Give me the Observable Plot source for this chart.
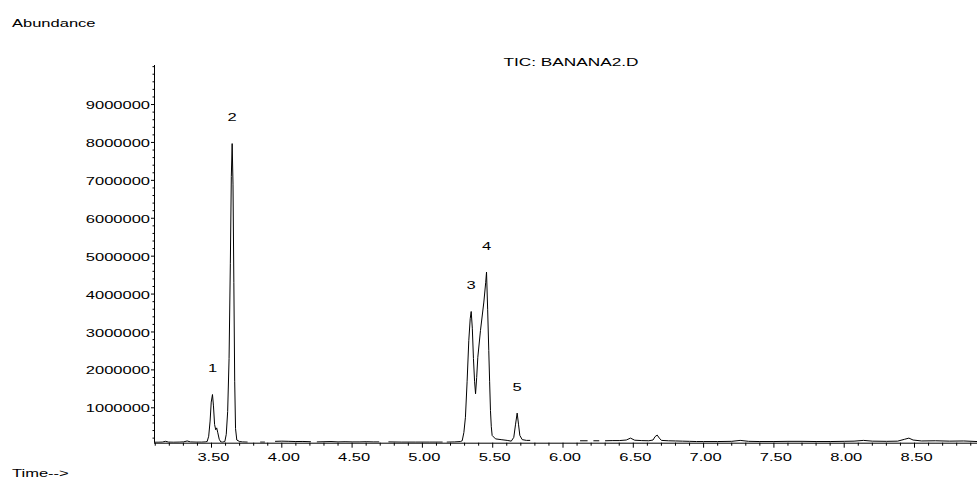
<!DOCTYPE html>
<html>
<head>
<meta charset="utf-8">
<script src="https://cdn.jsdelivr.net/npm/d3@7"></script>
<script src="https://cdn.jsdelivr.net/npm/@observablehq/plot@0.6"></script>
<style>
  html, body { margin: 0; padding: 0; background: #fff; }
  #chart svg { display: block; }
</style>
</head>
<body>
<div id="chart"></div>
<script>
// ---- Data ----
const chartTitle = "TIC: BANANA2.D";
const yAxisTitle = "Abundance";
const xAxisTitle = "Time-->";

// retention time (min); null = break in the trace
const times = [
  3.090, 3.120, 3.150, 3.173, 3.195, 3.230, 3.270, 3.300, 3.327, 3.350, 3.390, 3.430, 3.455,
  3.469, 3.480, 3.490, 3.498, 3.507, 3.514, 3.522, 3.530, 3.537, 3.545, 3.555, 3.566, 3.580,
  3.595, 3.605, 3.615, 3.625, 3.634, 3.641, 3.647, 3.653, 3.659, 3.665, 3.671, 3.680, 3.700,
  3.720, 3.754, null,
  3.849, 3.877, null,
  3.955, 4.000, 4.050, 4.100, 4.150, 4.204, null,
  4.252, 4.300, 4.350, 4.400, 4.450, 4.500, 4.550, 4.600, 4.650, 4.690, null,
  4.761, 4.850, 4.950, 5.050, 5.141, null,
  5.176, 5.230, 5.270, 5.283, 5.295, 5.306, 5.318, 5.330, 5.340, 5.347, 5.355, 5.363, 5.371,
  5.378, 5.386, 5.394, 5.413, 5.437, 5.450, 5.456, 5.464, 5.472, 5.478, 5.484, 5.490, 5.496,
  5.520, 5.560, 5.603, 5.632, 5.650, 5.662, 5.674, 5.684, 5.693, 5.710, 5.740, 5.764, null,
  6.124, 6.172, null,
  6.219, 6.255, null,
  6.302, 6.350, 6.400, 6.450, 6.480, 6.510, 6.560, 6.610, 6.640, 6.655, 6.670, 6.685, 6.700,
  6.750, 6.800, 6.850, 6.900, 6.950, 7.000, 7.100, 7.200, 7.260, 7.320, 7.400, 7.500, 7.600,
  7.700, 7.800, 7.900, 8.000, 8.070, 8.137, 8.200, 8.300, 8.380, 8.430, 8.460, 8.490, 8.550,
  8.650, 8.750, 8.850, 8.946
];
// abundance (counts)
const abundance = [
  92000, 92000, 95000, 115000, 95000, 92000, 95000, 100000, 125000, 100000, 95000, 95000, 100000,
  110000, 250000, 650000, 1150000, 1350000, 1050000, 560000, 420000, 470000, 340000, 170000, 100000, 95000,
  110000, 300000, 900000, 2300000, 4800000, 7100000, 7970000, 6900000, 4300000, 1700000, 450000, 150000, 110000,
  100000, 95000, null,
  95000, 95000, null,
  115000, 120000, 115000, 110000, 112000, 105000, null,
  100000, 105000, 110000, 100000, 105000, 100000, 100000, 105000, 100000, 100000, null,
  100000, 95000, 95000, 95000, 95000, null,
  95000, 100000, 110000, 130000, 350000, 750000, 1700000, 2780000, 3350000, 3540000, 3100000, 2300000, 1700000,
  1370000, 1800000, 2330000, 3040000, 3790000, 4300000, 4580000, 3600000, 2510000, 1700000, 930000, 500000, 270000,
  180000, 160000, 140000, 120000, 220000, 550000, 860000, 550000, 270000, 160000, 140000, 140000, null,
  130000, 130000, null,
  130000, 130000, null,
  130000, 135000, 135000, 150000, 200000, 145000, 135000, 130000, 150000, 240000, 280000, 200000, 140000,
  130000, 125000, 120000, 115000, 110000, 110000, 110000, 115000, 140000, 115000, 110000, 110000, 115000,
  115000, 110000, 110000, 115000, 120000, 140000, 120000, 115000, 120000, 170000, 200000, 150000, 125000,
  130000, 120000, 125000, 110000
];

// numbered peaks
const peakLabels = ["1", "2", "3", "4", "5"];
const peakTimes = [3.507, 3.647, 5.347, 5.456, 5.674];
const peakAbundance = [1350000, 7970000, 3540000, 4580000, 860000];

// axes
const xDomain = [3.0946, 8.948];
const yDomain = [66000, 10030000];
const xMajorTicks = [3.5, 4.0, 4.5, 5.0, 5.5, 6.0, 6.5, 7.0, 7.5, 8.0, 8.5];
const xMinorTicks = [3.1,3.2,3.3,3.4,3.6,3.7,3.8,3.9,4.1,4.2,4.3,4.4,4.6,4.7,4.8,4.9,5.1,5.2,5.3,5.4,
  5.6,5.7,5.8,5.9,6.1,6.2,6.3,6.4,6.6,6.7,6.8,6.9,7.1,7.2,7.3,7.4,7.6,7.7,7.8,7.9,8.1,8.2,8.3,8.4,8.6,8.7,8.8,8.9];
const yMajorTicks = [1000000, 2000000, 3000000, 4000000, 5000000, 6000000, 7000000, 8000000, 9000000];
const yMinorTicks = [200000,400000,600000,800000,1200000,1400000,1600000,1800000,2200000,2400000,2600000,2800000,
  3200000,3400000,3600000,3800000,4200000,4400000,4600000,4800000,5200000,5400000,5600000,5800000,
  6200000,6400000,6600000,6800000,7200000,7400000,7600000,7800000,8200000,8400000,8600000,8800000,
  9200000,9400000,9600000,9800000,10000000];
const xTickLabels = xMajorTicks.map(d => d.toFixed(2));
const yTickLabels = yMajorTicks.map(d => String(d));

// ---- Build ----
const rows = times.map((t, i) => ({t, v: abundance[i]}));
const peaks = peakLabels.map((label, i) => ({label, t: peakTimes[i], v: peakAbundance[i]}));
const xTicks = xMajorTicks.map((t, i) => ({t, label: xTickLabels[i]}));
const yTicks = yMajorTicks.map((v, i) => ({v, label: yTickLabels[i]}));

const FONT = "'Liberation Sans', Arial, sans-serif";

const chart = Plot.plot({
  width: 977,
  height: 483,
  marginLeft: 154,
  marginRight: 0,
  marginTop: 65,
  marginBottom: 40.3,
  style: {fontFamily: FONT, fontSize: "11px", background: "#fff", color: "#000"},
  x: {domain: xDomain},
  y: {domain: yDomain},
  marks: [
    Plot.axisX({ticks: xMinorTicks, tickSize: 3, tickFormat: () => "", label: null, stroke: "#000"}),
    Plot.axisX({ticks: xMajorTicks, tickSize: 5, tickFormat: () => "", label: null, stroke: "#000"}),
    Plot.axisY({ticks: yMinorTicks.filter(v => v > yDomain[0]), tickSize: 1.5, tickFormat: () => "", label: null, stroke: "#000"}),
    Plot.axisY({ticks: yMajorTicks, tickSize: 3, tickFormat: () => "", label: null, stroke: "#000"}),
    Plot.ruleY([yDomain[0]], {stroke: "#000", strokeWidth: 1}),
    Plot.ruleX([xDomain[0]], {stroke: "#000", strokeWidth: 1}),
    Plot.text(xTicks, {x: "t", text: "label", frameAnchor: "bottom", dy: 14.3, dx: 2,
      lineAnchor: "middle", textAnchor: "middle", fill: "#000", fontSize: 11}),
    Plot.text(yTicks, {y: "v", text: "label", frameAnchor: "left", dx: -4.5, dy: 1,
      lineAnchor: "middle", textAnchor: "end", fill: "#000", fontSize: 11}),
    Plot.line(rows, {x: "t", y: "v", stroke: "#000", strokeWidth: 1, clip: true}),
    Plot.text(peaks, {x: "t", y: "v", text: "label", dy: -26, lineAnchor: "middle",
      textAnchor: "middle", fill: "#000", fontSize: 11})
  ]
});

const host = document.getElementById("chart");
host.appendChild(chart);

const svg = d3.select(chart);
svg.append("text").attr("x", 12).attr("y", 26.5).attr("text-anchor", "start").attr("font-family", FONT)
  .attr("font-size", 11).attr("fill", "#000").text(yAxisTitle);
svg.append("text").attr("x", 571).attr("y", 65.5).attr("text-anchor", "middle").attr("font-family", FONT)
  .attr("font-size", 11.5).attr("fill", "#000").text(chartTitle);
svg.append("text").attr("x", 12).attr("y", 477).attr("text-anchor", "start").attr("font-family", FONT)
  .attr("font-size", 11).attr("fill", "#000").text(xAxisTitle);

// the instrument font is wide and tightly set: stretch glyphs horizontally
chart.querySelectorAll("text").forEach(el => {
  if (!el.textContent.trim()) return;
  const w = el.getComputedTextLength();
  if (w > 0) {
    el.setAttribute("textLength", (w * 1.5).toFixed(1));
    el.setAttribute("lengthAdjust", "spacingAndGlyphs");
  }
});
</script>
</body>
</html>
